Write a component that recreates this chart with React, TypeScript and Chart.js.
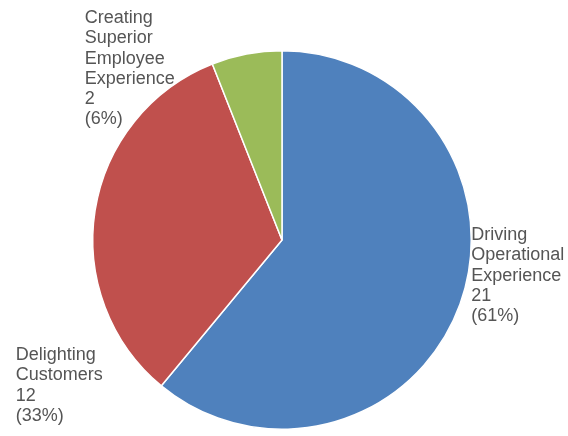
import React, { useEffect, useRef } from "react";
import { Chart, registerables } from "chart.js";

Chart.register(...registerables);

const categories = ["Driving Operational Experience", "Delighting Customers", "Creating Superior Employee Experience"];
const counts = [21, 12, 2];
const shares = [61, 33, 6];
const labelLines = [
  ["Driving", "Operational", "Experience"],
  ["Delighting", "Customers"],
  ["Creating", "Superior", "Employee", "Experience"],
];
const colors = ["#4F81BD", "#C0504D", "#9BBB59"];

const labelPlugin = {
  id: "sliceLabels",
  afterDraw(chart: any) {
    const ctx = chart.ctx;
    const arc0 = chart.getDatasetMeta(0).data[0];
    const cx = arc0.x;
    const cy = arc0.y;
    const r = arc0.outerRadius;
    const anchors = [
      { x: cx + r, y: cy - 5 },
      { x: cx - r - 77, y: cy + 115 },
      { x: cx - r - 8, y: cy - 222 },
    ];
    ctx.save();
    ctx.font = "18px 'Liberation Sans', Arial, sans-serif";
    ctx.fillStyle = "#555555";
    ctx.textAlign = "left";
    ctx.textBaseline = "middle";
    const lh = 20.3;
    labelLines.forEach((lines, i) => {
      const all = [...lines, String(counts[i]), "(" + shares[i] + "%)"];
      all.forEach((t, k) => {
        ctx.fillText(t, anchors[i].x, anchors[i].y + k * lh);
      });
    });
    ctx.restore();
  },
};

export default function App() {
  const ref = useRef<HTMLCanvasElement>(null);
  useEffect(() => {
    if (!ref.current) return;
    const chart = new Chart(ref.current, {
      type: "pie",
      data: {
        labels: categories,
        datasets: [
          {
            data: shares,
            backgroundColor: colors,
            borderColor: "#ffffff",
            borderWidth: 1.5,
          },
        ],
      },
      options: {
        responsive: false,
        animation: false,
        layout: { padding: { left: 92, right: 96, top: 50, bottom: 6 } },
        plugins: { legend: { display: false }, tooltip: { enabled: false } },
      },
      plugins: [labelPlugin],
    });
    return () => chart.destroy();
  }, []);
  return (
    <div style={{ position: "fixed", left: 0, top: 0, width: 568, height: 436, background: "#fff" }}>
      <canvas ref={ref} width={568} height={436} style={{ width: 568, height: 436 }} />
    </div>
  );
}
